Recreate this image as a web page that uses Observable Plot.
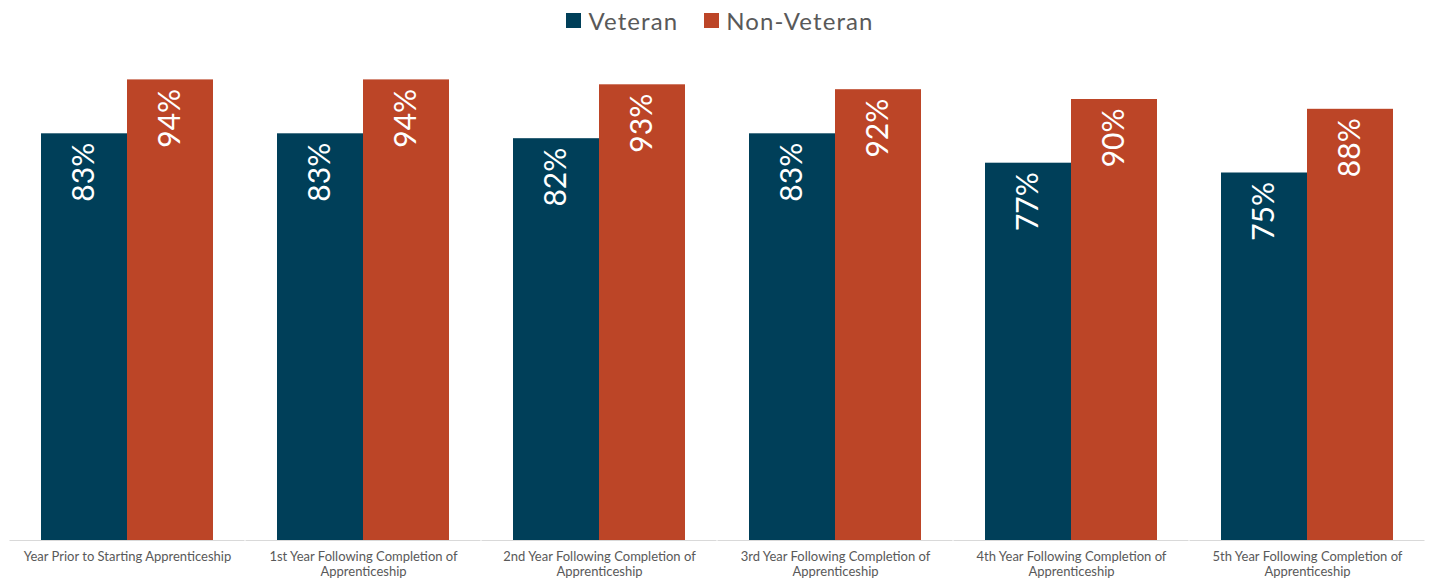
<!DOCTYPE html>
<html>
<head>
<meta charset="utf-8">
<script src="https://cdn.jsdelivr.net/npm/d3@7"></script>
<script src="https://cdn.jsdelivr.net/npm/@observablehq/plot@0.6"></script>
<style>
  html, body { margin: 0; padding: 0; background: #fff; }
  #legend { height: 40px; display: flex; justify-content: center; align-items: center; gap: 26px; font-family: Lato, sans-serif; font-size: 24px; letter-spacing: 1.1px; color: #595959; padding-left: 10px; box-sizing: border-box; }
  #legend .item { display: flex; align-items: center; gap: 7px; }
  #legend .sw { width: 15px; height: 15px; display: inline-block; }
</style>
</head>
<body>
<div id="legend"></div>
<div id="chart"></div>
<script>
const categories = ["Y0", "Y1", "Y2", "Y3", "Y4", "Y5"];
const tickLabels = [
  "Year Prior to Starting Apprenticeship",
  "1st Year Following Completion of\nApprenticeship",
  "2nd Year Following Completion of\nApprenticeship",
  "3rd Year Following Completion of\nApprenticeship",
  "4th Year Following Completion of\nApprenticeship",
  "5th Year Following Completion of\nApprenticeship"
];
const seriesNames = ["Veteran", "Non-Veteran"];
const veteran = [83, 83, 82, 83, 77, 75];
const nonVeteran = [94, 94, 93, 92, 90, 88];
const colors = ["#003F59", "#BC4527"];

const rows = [];
categories.forEach((c, i) => {
  rows.push({cat: c, series: seriesNames[0], value: veteran[i]});
  rows.push({cat: c, series: seriesNames[1], value: nonVeteran[i]});
});
const labelOf = new Map(categories.map((c, i) => [c, tickLabels[i]]));

const legend = document.getElementById("legend");
seriesNames.forEach((s, i) => {
  const it = document.createElement("div");
  it.className = "item";
  const sw = document.createElement("span");
  sw.className = "sw";
  sw.style.background = colors[i];
  const t = document.createElement("span");
  t.textContent = s;
  it.appendChild(sw); it.appendChild(t);
  legend.appendChild(it);
});

const plot = Plot.plot({
  width: 1430,
  height: 539,
  marginTop: 10,
  marginBottom: 39,
  marginLeft: 8,
  marginRight: 4,
  style: {fontFamily: "Lato, sans-serif", background: "#fff"},
  fx: {domain: categories, paddingInner: 0.27, paddingOuter: 0.135, axis: null},
  x: {domain: seriesNames, padding: 0, axis: null},
  y: {domain: [0, 100], axis: null},
  color: {domain: seriesNames, range: colors},
  marks: [
    Plot.barY(rows, {fx: "cat", x: "series", y: "value", fill: "series"}),
    Plot.ruleY([0], {stroke: "#D9D9D9", strokeWidth: 1, insetLeft: -31.5, insetRight: -31.5}),
    Plot.text(rows, {
      fx: "cat", x: "series", y: "value",
      text: d => d.value + "%",
      rotate: -90, textAnchor: "end", lineAnchor: "middle",
      dy: 9, fill: "white", fontSize: 30, fontFamily: "Lato, sans-serif"
    }),
    Plot.axisFx({
      anchor: "bottom", tickSize: 0, tickPadding: 10, fontSize: 13,
      lineHeight: 1.15,
      tickFormat: d => labelOf.get(d), color: "#595959", label: null,
      lineWidth: Infinity
    })
  ]
});
document.getElementById("chart").appendChild(plot);
</script>
</body>
</html>
